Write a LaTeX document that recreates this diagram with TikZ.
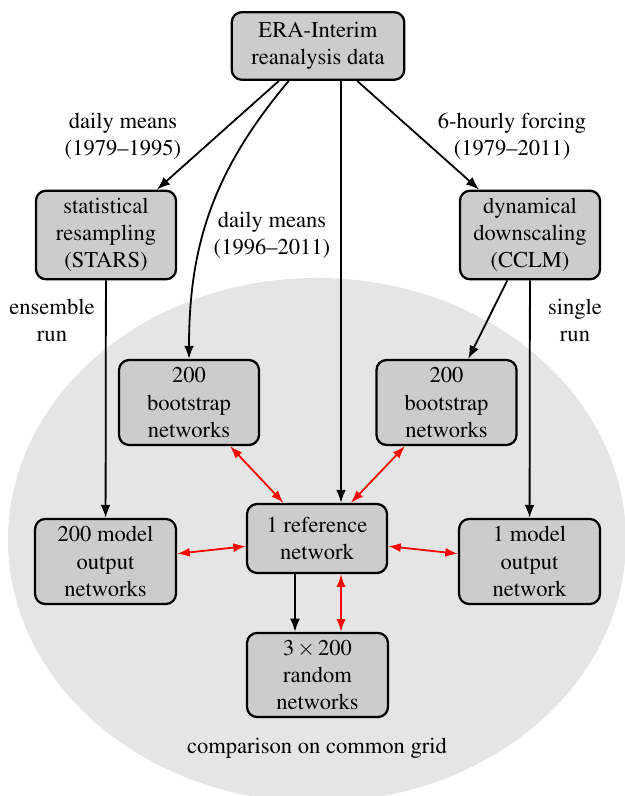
\documentclass[tikz,border=0pt]{standalone}
\usepackage[T1]{fontenc}
\usepackage{mathptmx}
\usetikzlibrary{arrows.meta,calc}
\begin{document}
\begin{tikzpicture}[x=0.4434pt,y=-0.4434pt,
  box/.style={draw=black,line width=1pt,rounded corners=4.5pt,fill=black!20,align=center,inner sep=0pt,font=\fontsize{10}{12}\selectfont},
  lbl/.style={align=center,inner sep=0pt,font=\fontsize{10}{12}\selectfont},
  arr/.style={line width=0.8pt,-{Latex[length=5.8pt,width=4.4pt]}},
  rarr/.style={line width=0.8pt,red,{Latex[length=5.6pt,width=4pt]}-{Latex[length=5.6pt,width=4pt]}}]
\useasboundingbox (0,0) rectangle (625,796);
\fill[black!10] (317,540) ellipse [x radius=137pt, y radius=116.2pt];

\node[box,minimum width=76.5pt,minimum height=30pt] (era) at (318,46) {ERA-Interim\\reanalysis data};
\node[box,minimum width=62.1pt,minimum height=39.3pt] (stars) at (106,235) {statistical\\resampling\\(STARS)};
\node[box,minimum width=62.1pt,minimum height=39.3pt] (cclm) at (530,235) {dynamical\\downscaling\\(CCLM)};
\node[box,minimum width=62.1pt,minimum height=37.7pt] (boot1) at (189,402.5) {200\\bootstrap\\networks};
\node[box,minimum width=62.1pt,minimum height=37.7pt] (boot2) at (446.5,402.5) {200\\bootstrap\\networks};
\node[box,minimum width=62.5pt,minimum height=37.7pt] (model200) at (105.5,561.5) {200 model\\output\\networks};
\node[box,minimum width=62.5pt,minimum height=37.7pt] (model1) at (529.5,561.5) {1 model\\output\\network};
\node[box,minimum width=62.1pt,minimum height=30.6pt] (ref) at (317,538.5) {1 reference\\network};
\node[box,minimum width=62.5pt,minimum height=37.3pt] (random) at (317.5,675) {$3\times200$\\random\\networks};

\node[lbl] (l1) at (123,136) {daily means\\(1979--1995)};
\node[lbl] (l2) at (272,235) {daily means\\(1996--2011)};
\node[lbl] (l3) at (512,136) {6-hourly forcing\\(1979--2011)};
\node[lbl] (l4) at (52,320) {ensemble\\run};
\node[lbl] (l5) at (575,320) {single\\run};
\node[lbl] (l6) at (317,748) {comparison on common grid};

\draw[arr] (era) -- (stars);
\draw[arr] (era) -- (cclm);
\draw[arr] (era) to[out=-130,in=90] (boot1);
\draw[arr] ($(era.south)+(23,0)$) -- ($(ref.north)+(24,0)$);
\draw[arr] (cclm) -- (boot2);
\draw[arr] (stars) -- (model200);
\draw[arr] (cclm) -- (model1);
\draw[arr] ($(ref.south)+(-22,0)$) -- ($(random.north)+(-22.5,0)$);

\draw[rarr] (boot1) -- (ref);
\draw[rarr] (boot2) -- (ref);
\draw[rarr] (model200) -- (ref);
\draw[rarr] (model1) -- (ref);
\draw[rarr] ($(ref.south)+(24,0)$) -- ($(random.north)+(23.5,0)$);
\end{tikzpicture}
\end{document}
